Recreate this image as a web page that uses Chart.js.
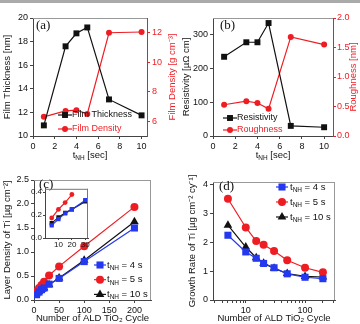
<!DOCTYPE html>
<html lang="en">
<head>
<meta charset="UTF-8">
<title>TiN film panels</title>
<script src="https://cdn.jsdelivr.net/npm/chart.js"></script>
<style>
  body { margin: 0; background: #fff; }
  #fig { position: relative; width: 360px; height: 324px; overflow: hidden; }
  #topbar { position: absolute; left: 0; top: 0; width: 360px; height: 3px; background: #aaa; }
  canvas { position: absolute; }
</style>
</head>
<body>
<div id="fig">
  <div id="topbar"></div>
  <canvas id="chartA" width="180" height="162" style="left:0;top:0"></canvas>
  <canvas id="chartB" width="180" height="162" style="left:180px;top:0"></canvas>
  <canvas id="chartC" width="180" height="162" style="left:0;top:162px"></canvas>
  <canvas id="chartD" width="180" height="162" style="left:180px;top:162px"></canvas>
  <canvas id="inset" width="74" height="70" style="left:28px;top:183px;z-index:2"></canvas>
</div>
<script>
// ---- data ----
const tnh = [1, 3, 4, 5, 7, 10];                       // t_NH [sec]
const filmThickness = [10.9, 17.6, 18.7, 19.2, 13.1, 11.75];
const filmDensity = [6.3, 6.7, 6.75, 6.5, 12.0, 12.05];
const resistivity = [235, 278, 278, 335, 30, 26];
const roughness = [0.53, 0.59, 0.56, 0.46, 1.68, 1.55];

const cycles = [5, 10, 15, 20, 30, 50, 100, 200];
const density4s = [0.11, 0.165, 0.215, 0.25, 0.33, 0.45, 0.80, 1.50];
const density5s = [0.175, 0.25, 0.31, 0.38, 0.51, 0.70, 1.12, 1.94];
const density10s = [0.13, 0.18, 0.22, 0.25, 0.32, 0.46, 0.83, 1.63];
const growth4s = [2.25, 1.67, 1.45, 1.27, 1.12, 0.91, 0.79, 0.74];
const growth5s = [3.52, 2.52, 2.05, 1.92, 1.70, 1.38, 1.12, 0.96];
const growth10s = [2.6, 1.84, 1.47, 1.28, 1.10, 0.92, 0.82, 0.80];

const BLACK = '#111', RED = '#ee1d23', BLUE = '#2438f0', AXIS = '#444', FRAME = '#999';
const SANS = "'Liberation Sans', Arial, sans-serif";
const SERIF = "'Liberation Serif', 'Times New Roman', serif";

const pts = (xs, ys) => xs.map((x, i) => ({x: x, y: ys[i]})).filter(p => p.y !== undefined);

function axis(o) {
  const c = o.color || AXIS;
  return {
    type: o.type || 'linear', position: o.pos, min: o.min, max: o.max,
    afterFit: s => { if (s.isHorizontal()) s.height = o.size; else s.width = o.size; },
    afterBuildTicks: s => { if (o.at) s.ticks = o.at.map(v => ({value: v})); },
    grid: {drawOnChartArea: false, tickLength: o.tl || 3, color: c},
    border: {color: c, width: 1},
    ticks: {font: {family: SANS, size: o.fs || 9}, color: o.color ? c : BLACK, padding: o.pad === undefined ? 2 : o.pad,
            maxRotation: 0, autoSkip: false, callback: o.fmt || (v => v)},
    title: o.title ? {display: true, text: o.title, color: BLACK, font: {family: SANS, size: 9.5},
                      padding: {top: o.tpad, bottom: o.tpad}} : {display: false}
  };
}

function series(label, xs, ys, color, style, r, axisId) {
  return {label: label, data: pts(xs, ys), yAxisID: axisId || 'y', borderColor: color, backgroundColor: color,
          pointStyle: style, pointRadius: r, pointBorderWidth: 0, borderWidth: 1.2, tension: 0};
}

// text with subscripts / rotation, drawn on the canvas
function drawRich(ctx, it) {
  const size = it.size || 9.5, fam = it.font || SANS;
  const parts = it.parts.map(p => typeof p === 'string' ? [p, false] : p);
  const w = parts.map(p => { ctx.font = (p[1] ? size * 0.68 : size) + 'px ' + fam; return ctx.measureText(p[0]).width; });
  const total = w.reduce((a, b) => a + b, 0);
  ctx.save();
  ctx.translate(it.x, it.y);
  if (it.rot) ctx.rotate(it.rot);
  let cx = it.align === 'center' ? -total / 2 : 0;
  ctx.textBaseline = 'middle'; ctx.textAlign = 'left'; ctx.fillStyle = it.color || BLACK;
  parts.forEach((p, i) => {
    ctx.font = (p[1] ? size * 0.68 : size) + 'px ' + fam;
    ctx.fillText(p[0], cx, p[1] ? size * 0.32 : 0);
    cx += w[i];
  });
  ctx.restore();
}

function mark(ctx, style, r, x, y, color) {
  ctx.fillStyle = color;
  ctx.beginPath();
  if (style === 'rect') { const s = r * Math.SQRT1_2; ctx.rect(x - s, y - s, 2 * s, 2 * s); }
  else if (style === 'triangle') { for (let k = 0; k < 3; k++) { const a = k * 2 * Math.PI / 3; ctx[k ? 'lineTo' : 'moveTo'](x + Math.sin(a) * r, y - Math.cos(a) * r); } ctx.closePath(); }
  else ctx.arc(x, y, r, 0, 2 * Math.PI);
  ctx.fill();
}

// frame, legend and free text for one panel
const decor = {
  id: 'decor',
  afterDatasetsDraw(chart, args, o) {
    const {ctx, chartArea: a} = chart;
    ctx.save();
    ctx.strokeStyle = o.frame || FRAME; ctx.lineWidth = 1;
    ctx.beginPath();
    ctx.moveTo(a.left, a.top + 0.5); ctx.lineTo(a.right, a.top + 0.5);
    if (o.right) { ctx.moveTo(a.right - 0.5, a.top); ctx.lineTo(a.right - 0.5, a.bottom); }
    ctx.stroke();
    if (o.key) {
      const k = o.key;
      chart.data.datasets.forEach((ds, i) => {
        const y = k.y + i * k.dy;
        ctx.strokeStyle = ds.borderColor; ctx.lineWidth = 1.2;
        ctx.beginPath(); ctx.moveTo(k.x - k.len / 2, y); ctx.lineTo(k.x + k.len / 2, y); ctx.stroke();
        mark(ctx, ds.pointStyle, ds.pointRadius, k.x, y, ds.borderColor);
        drawRich(ctx, {x: k.tx, y: y, parts: k.labels[i], color: k.colored ? ds.borderColor : BLACK, size: k.size});
      });
    }
    (o.notes || []).forEach(n => drawRich(ctx, n));
    ctx.restore();
  }
};

const base = (padding, plugins) => ({
  responsive: false, animation: false, layout: {padding: padding},
  plugins: Object.assign({legend: {display: false}, tooltip: {enabled: false}}, plugins)
});
const tLabel = x => ({x: x, y: 155, align: 'center', parts: ['t', ['NH', true], ' [sec]']});
const nh = rest => ['t', ['NH', true], rest];

// (a)
new Chart(document.getElementById('chartA'), {
  type: 'line',
  plugins: [decor],
  data: {datasets: [
    series('Film Thickness', tnh, filmThickness, BLACK, 'rect', 4.2, 'y'),
    series('Film Density', tnh, filmDensity, RED, 'circle', 3, 'y2')
  ]},
  options: Object.assign(base({top: 18}, {decor: {
    key: {x: 65, y: 115, dy: 14, len: 14, tx: 72, size: 9, colored: true, labels: [['Film Thickness'], ['Film Density']]},
    notes: [tLabel(90),
      {x: 172, y: 77, rot: -Math.PI / 2, align: 'center', color: RED, parts: ['Film Density [g cm⁻³]']},
      {x: 36, y: 26, size: 13, font: SERIF, parts: ['(a)']}]
  }}), {scales: {
    x: axis({pos: 'bottom', min: 0, max: 10.5, at: [0, 2, 4, 6, 8, 10], size: 26}),
    y: axis({pos: 'left', min: 10, max: 20, at: [10, 12, 14, 16, 18, 20], size: 33, title: 'Film Thickness [nm]', tpad: 2}),
    y2: axis({pos: 'right', min: 5, max: 13, at: [6, 8, 10, 12], size: 33, color: RED})
  }})
});

// (b)
new Chart(document.getElementById('chartB'), {
  type: 'line',
  plugins: [decor],
  data: {datasets: [
    series('Resistivity', tnh, resistivity, BLACK, 'rect', 4.2, 'y'),
    series('Roughness', tnh, roughness, RED, 'circle', 3, 'y2')
  ]},
  options: Object.assign(base({top: 18}, {decor: {
    key: {x: 50, y: 118, dy: 12, len: 14, tx: 57, size: 9, colored: true, labels: [['Resistivity'], ['Roughness']]},
    notes: [tLabel(93),
      {x: 173, y: 77, rot: -Math.PI / 2, align: 'center', color: RED, parts: ['Roughness [nm]']},
      {x: 40, y: 26, size: 13, font: SERIF, parts: ['(b)']}]
  }}), {scales: {
    x: axis({pos: 'bottom', min: 0, max: 10.8, at: [0, 2, 4, 6, 8, 10], size: 26}),
    y: axis({pos: 'left', min: 0, max: 350, at: [0, 100, 200, 300], size: 33, title: 'Resistivity [µΩ cm]', tpad: 1}),
    y2: axis({pos: 'right', min: 0, max: 2.0, at: [0, 0.5, 1, 1.5, 2], size: 27, color: RED, pad: 1, fmt: v => v.toFixed(1)})
  }})
});

// (c)
new Chart(document.getElementById('chartC'), {
  type: 'line',
  plugins: [decor],
  data: {datasets: [
    series('4 s', cycles, density4s, BLUE, 'rect', 5),
    series('5 s', cycles, density5s, RED, 'circle', 4),
    series('10 s', cycles, density10s, BLACK, 'triangle', 5)
  ]},
  options: Object.assign(base({top: 18, right: 29}, {decor: {
    right: true,
    key: {x: 100, y: 103, dy: 14.7, len: 12, tx: 107, labels: [nh(' = 4 s'), nh(' = 5 s'), nh(' = 10 s')]},
    notes: [{x: 39, y: 23, size: 13, font: SERIF, parts: ['(c)']}]
  }}), {scales: {
    x: axis({pos: 'bottom', min: 0, max: 233, at: [0, 50, 100, 150, 200], size: 24, title: 'Number of ALD TiO₂ Cycle', tpad: 0}),
    y: axis({pos: 'left', min: 0, max: 2.5, at: [0, 0.5, 1, 1.5, 2, 2.5], size: 34, title: 'Layer Density of Ti [µg cm⁻²]', tpad: 2, fmt: v => v.toFixed(1)})
  }})
});

// (c) inset
new Chart(document.getElementById('inset'), {
  type: 'line',
  plugins: [decor],
  data: {datasets: [
    series('4 s', cycles.slice(0, 5), density4s, BLUE, 'rect', 3),
    series('5 s', cycles.slice(0, 4), density5s, RED, 'circle', 2.4),
    series('10 s', cycles.slice(0, 5), density10s, BLACK, 'rect', 3)
  ]},
  options: Object.assign(base({top: 5, right: 14}, {decor: {right: true, frame: '#777'}}), {scales: {
    x: axis({pos: 'bottom', min: 0, max: 32, at: [10, 20, 30], size: 15, fs: 8, pad: 0, tl: 2}),
    y: axis({pos: 'left', min: 0, max: 0.43, at: [0, 0.2, 0.4], size: 17, fs: 8, pad: 1, tl: 2, fmt: v => v.toFixed(1)})
  }})
});

// (d)
new Chart(document.getElementById('chartD'), {
  type: 'line',
  plugins: [decor],
  data: {datasets: [
    series('4 s', cycles, growth4s, BLUE, 'rect', 5),
    series('5 s', cycles, growth5s, RED, 'circle', 4),
    series('10 s', cycles, growth10s, BLACK, 'triangle', 5)
  ]},
  options: Object.assign(base({top: 20, right: 25}, {decor: {
    right: true,
    key: {x: 102, y: 25, dy: 15, len: 12, tx: 110, labels: [nh(' = 4 s'), nh(' = 5 s'), nh(' = 10 s')]},
    notes: [{x: 39, y: 25, size: 13, font: SERIF, parts: ['(d)']}]
  }}), {scales: {
    x: axis({type: 'logarithmic', pos: 'bottom', min: 2.8, max: 320, size: 24,
             at: [3, 4, 5, 6, 7, 8, 9, 10, 20, 30, 40, 50, 60, 70, 80, 90, 100, 200, 300],
             fmt: v => (v === 10 || v === 100) ? String(v) : '', title: 'Number of ALD TiO₂ Cycle', tpad: 0}),
    y: axis({pos: 'left', min: 0, max: 4.1, at: [0, 1, 2, 3, 4], size: 33, title: 'Growth Rate of Ti [µg cm⁻² cy⁻¹]', tpad: 7})
  }})
});
</script>
</body>
</html>
